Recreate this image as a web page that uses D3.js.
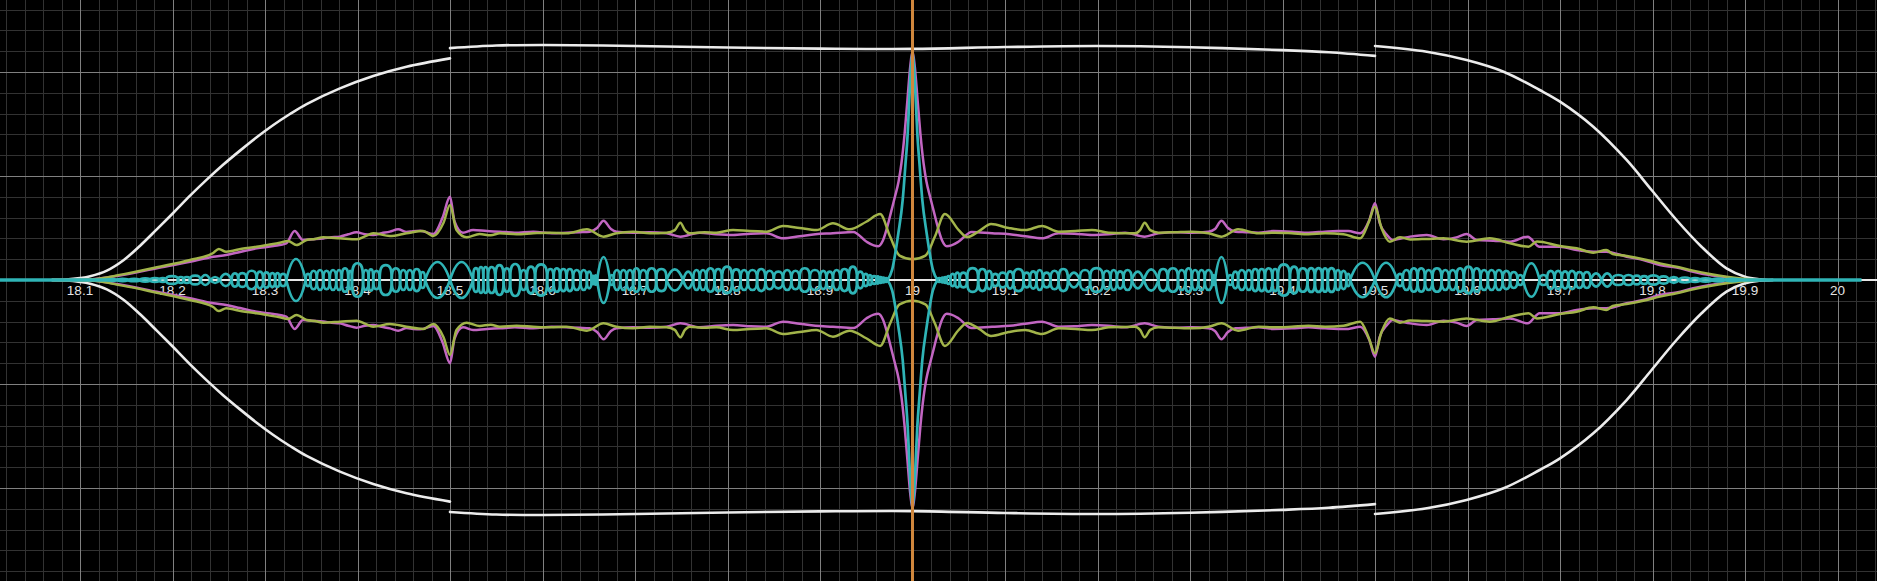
<!DOCTYPE html>
<html><head><meta charset="utf-8">
<script src="https://cdn.jsdelivr.net/npm/d3@7"></script>
<style>html,body{margin:0;padding:0;background:#000;overflow:hidden}</style>
</head><body><svg id="c" width="1877" height="581"></svg>
<script>
// ---------------- data ----------------
const xTickLabels = ["18.1","18.2","18.3","18.4","18.5","18.6","18.7","18.8","18.9","19","19.1","19.2","19.3","19.4","19.5","19.6","19.7","19.8","19.9","20"];
const markerX = 19;

const whiteLeft = [[18.07,0],[18.085,0.004],[18.1,0.018],[18.111,0.036],[18.129,0.09],[18.147,0.19],[18.165,0.33],[18.183,0.487],[18.201,0.647],[18.219,0.811],[18.237,0.965],[18.255,1.11],[18.273,1.244],[18.291,1.372],[18.309,1.49],[18.327,1.596],[18.345,1.692],[18.381,1.843],[18.417,1.962],[18.453,2.051],[18.5,2.131]];
const whiteMid = [[18.5,2.23],[18.55,2.255],[18.6,2.26],[18.7,2.25],[18.8,2.235],[18.9,2.225],[19.0,2.222],[19.1,2.24],[19.2,2.25],[19.3,2.238],[19.4,2.21],[19.45,2.19],[19.5,2.155]];
const whiteRight = [[19.5,2.25],[19.556,2.195],[19.599,2.115],[19.639,2.003],[19.678,1.827],[19.7,1.715],[19.736,1.474],[19.772,1.154],[19.799,0.865],[19.826,0.577],[19.853,0.32],[19.88,0.112],[19.9,0.032],[19.915,0.008],[19.93,0]];

const magentaTop = [[18.07,0],[18.111,0.006],[18.146,0.048],[18.183,0.113],[18.219,0.176],[18.244,0.224],[18.258,0.24],[18.273,0.27],[18.291,0.305],[18.309,0.327],[18.323,0.353],[18.332,0.471],[18.341,0.385],[18.352,0.392],[18.363,0.4],[18.372,0.41],[18.381,0.417],[18.39,0.44],[18.399,0.458],[18.408,0.44],[18.417,0.433],[18.426,0.45],[18.435,0.465],[18.444,0.487],[18.453,0.462],[18.46,0.47],[18.468,0.474],[18.482,0.442],[18.492,0.6],[18.5,0.8],[18.505,0.56],[18.514,0.455],[18.525,0.481],[18.54,0.47],[18.554,0.465],[18.57,0.455],[18.59,0.465],[18.61,0.45],[18.626,0.455],[18.64,0.46],[18.651,0.465],[18.659,0.5],[18.666,0.57],[18.674,0.49],[18.68,0.465],[18.698,0.455],[18.715,0.46],[18.734,0.449],[18.749,0.417],[18.77,0.455],[18.788,0.44],[18.806,0.433],[18.825,0.445],[18.842,0.449],[18.86,0.401],[18.878,0.42],[18.895,0.44],[18.914,0.449],[18.936,0.462],[18.95,0.37],[18.958,0.333],[18.963,0.325],[18.968,0.38],[18.973,0.52],[18.977,0.66],[18.981,0.8],[18.985,0.95],[18.988,1.12],[18.9915,1.41],[18.9945,1.73],[18.9975,2.05],[19.0,2.2],[19.0025,2.05],[19.0055,1.73],[19.0085,1.41],[19.012,1.12],[19.015,0.95],[19.019,0.8],[19.023,0.66],[19.027,0.52],[19.032,0.38],[19.037,0.325],[19.042,0.333],[19.05,0.37],[19.064,0.462],[19.086,0.449],[19.105,0.44],[19.122,0.42],[19.14,0.401],[19.158,0.449],[19.175,0.445],[19.194,0.433],[19.212,0.44],[19.23,0.455],[19.251,0.417],[19.266,0.449],[19.285,0.46],[19.302,0.455],[19.32,0.465],[19.327,0.49],[19.334,0.57],[19.341,0.5],[19.349,0.465],[19.36,0.46],[19.374,0.455],[19.39,0.47],[19.41,0.465],[19.428,0.455],[19.446,0.465],[19.46,0.47],[19.471,0.47],[19.484,0.449],[19.494,0.58],[19.5,0.737],[19.505,0.55],[19.513,0.433],[19.519,0.385],[19.528,0.4],[19.538,0.417],[19.556,0.433],[19.574,0.392],[19.588,0.41],[19.599,0.442],[19.61,0.385],[19.628,0.378],[19.646,0.369],[19.665,0.417],[19.678,0.32],[19.7,0.32],[19.718,0.288],[19.736,0.272],[19.75,0.272],[19.772,0.224],[19.79,0.192],[19.808,0.144],[19.826,0.12],[19.844,0.08],[19.862,0.048],[19.88,0.026],[19.898,0.006],[19.916,0]];

const oliveTop = [[18.07,0],[18.111,0.006],[18.146,0.054],[18.183,0.122],[18.219,0.192],[18.244,0.26],[18.25,0.298],[18.258,0.272],[18.275,0.3],[18.291,0.32],[18.304,0.34],[18.316,0.359],[18.325,0.375],[18.334,0.336],[18.345,0.385],[18.354,0.395],[18.363,0.41],[18.381,0.401],[18.399,0.391],[18.408,0.42],[18.417,0.449],[18.435,0.423],[18.453,0.449],[18.471,0.471],[18.482,0.423],[18.493,0.55],[18.5,0.72],[18.507,0.48],[18.518,0.41],[18.532,0.442],[18.544,0.43],[18.554,0.449],[18.572,0.44],[18.59,0.449],[18.608,0.455],[18.626,0.449],[18.648,0.487],[18.666,0.417],[18.68,0.45],[18.698,0.465],[18.716,0.45],[18.734,0.455],[18.743,0.48],[18.749,0.551],[18.754,0.48],[18.759,0.449],[18.775,0.46],[18.788,0.455],[18.806,0.481],[18.824,0.47],[18.842,0.465],[18.86,0.52],[18.878,0.5],[18.896,0.48],[18.914,0.545],[18.932,0.487],[18.95,0.56],[18.965,0.634],[18.976,0.413],[18.986,0.235],[19.0,0.2],[19.014,0.235],[19.024,0.413],[19.035,0.634],[19.05,0.48],[19.059,0.413],[19.072,0.47],[19.085,0.538],[19.104,0.5],[19.122,0.48],[19.14,0.52],[19.158,0.465],[19.176,0.47],[19.194,0.481],[19.212,0.455],[19.241,0.449],[19.246,0.48],[19.251,0.551],[19.257,0.48],[19.266,0.455],[19.284,0.46],[19.302,0.465],[19.32,0.45],[19.334,0.417],[19.352,0.487],[19.374,0.449],[19.392,0.455],[19.41,0.449],[19.428,0.44],[19.446,0.449],[19.466,0.44],[19.484,0.401],[19.493,0.55],[19.5,0.705],[19.507,0.5],[19.516,0.369],[19.527,0.41],[19.538,0.39],[19.556,0.395],[19.574,0.401],[19.599,0.369],[19.624,0.401],[19.646,0.353],[19.666,0.32],[19.675,0.369],[19.7,0.327],[19.718,0.305],[19.736,0.263],[19.75,0.288],[19.757,0.25],[19.772,0.231],[19.79,0.2],[19.808,0.16],[19.826,0.128],[19.844,0.09],[19.862,0.058],[19.88,0.032],[19.898,0.013],[19.916,0]];

// cyan loops: [start, end, half-height, lens(1)/oval(0)]
const cyanLoops = [
[18.130,18.140,0.008,0],[18.140,18.152,0.01,0],[18.152,18.165,0.012,0],[18.165,18.176,0.015,0],[18.176,18.186,0.019,0],[18.186,18.193,0.019,0],[18.193,18.206,0.038,0],[18.206,18.212,0.029,0],[18.212,18.219,0.029,0],[18.219,18.230,0.043,0],[18.230,18.241,0.048,1],[18.241,18.251,0.029,1],[18.251,18.264,0.058,1],[18.264,18.271,0.064,0],[18.271,18.280,0.067,0],[18.280,18.291,0.089,0],[18.291,18.298,0.08,0],[18.298,18.305,0.074,0],[18.305,18.311,0.067,0],[18.311,18.316,0.067,0],[18.316,18.323,0.058,0],[18.323,18.344,0.202,1],[18.344,18.349,0.058,0],[18.349,18.356,0.089,0],[18.356,18.363,0.096,0],[18.363,18.370,0.089,0],[18.370,18.377,0.096,0],[18.377,18.383,0.096,0],[18.383,18.390,0.113,0],[18.390,18.394,0.089,0],[18.394,18.406,0.161,0],[18.406,18.412,0.096,0],[18.412,18.417,0.103,0],[18.417,18.424,0.089,0],[18.424,18.437,0.144,0],[18.437,18.446,0.113,0],[18.446,18.453,0.096,0],[18.453,18.460,0.096,0],[18.460,18.468,0.106,0],[18.468,18.473,0.077,0],[18.473,18.500,0.173,1],[18.500,18.525,0.173,1],[18.525,18.531,0.115,0],[18.531,18.536,0.125,0],[18.536,18.541,0.125,0],[18.541,18.549,0.125,0],[18.549,18.558,0.144,0],[18.558,18.565,0.113,0],[18.565,18.576,0.154,0],[18.576,18.583,0.096,0],[18.583,18.592,0.128,0],[18.592,18.605,0.151,0],[18.605,18.612,0.106,0],[18.612,18.619,0.113,0],[18.619,18.626,0.106,0],[18.626,18.633,0.106,0],[18.633,18.641,0.096,0],[18.641,18.648,0.096,0],[18.648,18.653,0.08,0],[18.653,18.656,0.04,0],[18.656,18.659,0.045,0],[18.659,18.673,0.221,1],[18.673,18.677,0.048,0],[18.677,18.684,0.096,0],[18.684,18.691,0.096,0],[18.691,18.698,0.096,0],[18.698,18.705,0.113,0],[18.705,18.713,0.096,0],[18.713,18.723,0.113,0],[18.723,18.734,0.106,0],[18.734,18.752,0.103,1],[18.752,18.763,0.08,1],[18.763,18.770,0.096,0],[18.770,18.777,0.096,0],[18.777,18.786,0.113,0],[18.786,18.794,0.106,0],[18.794,18.805,0.128,0],[18.805,18.814,0.103,0],[18.814,18.822,0.096,0],[18.822,18.832,0.096,0],[18.832,18.841,0.106,0],[18.841,18.850,0.089,0],[18.850,18.860,0.08,0],[18.860,18.869,0.096,0],[18.869,18.878,0.089,0],[18.878,18.889,0.113,0],[18.889,18.900,0.096,0],[18.900,18.907,0.087,0],[18.907,18.914,0.08,0],[18.914,18.922,0.096,0],[18.922,18.931,0.106,0],[18.931,18.940,0.128,0],[18.940,18.947,0.08,0],[18.947,18.952,0.058,0],[18.952,18.956,0.048,0],[18.956,18.961,0.038,0],[18.961,18.964,0.034,0],[18.964,18.967,0.029,0],[18.967,18.970,0.024,0],[18.970,18.973,0.019,0],
[19.027,19.031,0.019,0],[19.031,19.034,0.024,0],[19.034,19.037,0.029,0],[19.037,19.041,0.038,0],[19.041,19.046,0.058,0],[19.046,19.051,0.071,0],[19.051,19.059,0.071,0],[19.059,19.071,0.115,0],[19.071,19.080,0.106,0],[19.080,19.086,0.087,0],[19.086,19.093,0.058,0],[19.093,19.102,0.071,0],[19.102,19.109,0.082,0],[19.109,19.120,0.106,0],[19.120,19.127,0.071,0],[19.127,19.134,0.082,0],[19.134,19.141,0.096,0],[19.141,19.149,0.071,0],[19.149,19.158,0.089,0],[19.158,19.168,0.106,0],[19.168,19.181,0.071,1],[19.181,19.192,0.096,0],[19.192,19.206,0.115,0],[19.206,19.214,0.089,0],[19.214,19.221,0.096,0],[19.221,19.228,0.082,0],[19.228,19.237,0.096,0],[19.237,19.250,0.08,1],[19.250,19.266,0.103,1],[19.266,19.276,0.106,0],[19.276,19.287,0.113,0],[19.287,19.295,0.096,0],[19.295,19.302,0.113,0],[19.302,19.309,0.096,0],[19.309,19.316,0.096,0],[19.316,19.324,0.096,0],[19.324,19.327,0.048,0],[19.327,19.341,0.221,1],[19.341,19.346,0.048,0],[19.346,19.352,0.08,0],[19.352,19.360,0.096,0],[19.360,19.367,0.096,0],[19.367,19.374,0.106,0],[19.374,19.381,0.106,0],[19.381,19.389,0.113,0],[19.389,19.395,0.106,0],[19.395,19.408,0.151,0],[19.408,19.417,0.128,0],[19.417,19.427,0.113,0],[19.427,19.435,0.115,0],[19.435,19.443,0.115,0],[19.443,19.449,0.113,0],[19.449,19.457,0.115,0],[19.457,19.463,0.096,0],[19.463,19.469,0.087,0],[19.469,19.473,0.058,0],[19.473,19.500,0.166,1],[19.500,19.524,0.166,1],[19.524,19.530,0.058,0],[19.530,19.538,0.096,0],[19.538,19.546,0.113,0],[19.546,19.554,0.113,0],[19.554,19.562,0.096,0],[19.562,19.572,0.113,0],[19.572,19.580,0.096,0],[19.580,19.588,0.096,0],[19.588,19.596,0.113,0],[19.596,19.606,0.128,0],[19.606,19.614,0.113,0],[19.614,19.622,0.096,0],[19.622,19.630,0.096,0],[19.630,19.638,0.096,0],[19.638,19.646,0.087,0],[19.646,19.654,0.077,0],[19.654,19.660,0.048,0],[19.660,19.678,0.161,1],[19.678,19.686,0.048,0],[19.686,19.694,0.087,0],[19.694,19.702,0.087,0],[19.702,19.709,0.082,0],[19.709,19.717,0.087,0],[19.717,19.725,0.077,0],[19.725,19.733,0.077,0],[19.733,19.745,0.063,1],[19.745,19.757,0.064,1],[19.757,19.769,0.048,0],[19.769,19.779,0.048,0],[19.779,19.787,0.043,0],[19.787,19.795,0.038,0],[19.795,19.807,0.045,0],[19.807,19.817,0.034,0],[19.817,19.829,0.026,1],[19.829,19.841,0.024,0],[19.841,19.851,0.019,0],[19.851,19.864,0.016,0],[19.864,19.878,0.0125,0],[19.878,19.895,0.01,0]
];
const cyanSpikeLeft = [[18.973,0],[18.978,0.1],[18.9847,0.45],[18.9894,0.77],[18.9922,1.09],[18.9948,1.41],[18.9965,1.73],[18.9984,2.05],[19.0,2.19]];
const cyanSpikeRight = [[19.0,2.19],[19.0016,2.05],[19.0035,1.73],[19.0052,1.41],[19.0078,1.09],[19.0106,0.77],[19.0153,0.45],[19.022,0.1],[19.027,0]];
const cyanFlat = [[18.0135,18.131],[19.894,20.026]];

// ---------------- drawing ----------------
const W = 1877, H = 581;
const x = d3.scaleLinear().domain([18.01351, 20.04270]).range([0, W]);
const y = d3.scaleLinear().domain([-2.8942, 2.6923]).range([H, 0]);
const svg = d3.select('#c');
svg.append('rect').attr('width', W).attr('height', H).attr('fill', '#000');

// grid via axes
const minorXv = d3.range(901, 1003).map(k => k * 0.02);
const majorXv = d3.range(181, 201).map(k => k / 10);
const minorYv = d3.range(-14, 14).map(k => k * 0.2);
const majorYv = d3.range(-2, 3);
function gridX(vals, col) {
  const g = svg.append('g').attr('transform', `translate(0,${H})`)
    .call(d3.axisBottom(x).tickValues(vals).tickSize(-H).tickFormat(''));
  g.select('.domain').remove();
  g.selectAll('line').attr('stroke', col).attr('stroke-width', 1).attr('shape-rendering', 'crispEdges');
}
function gridY(vals, col) {
  const g = svg.append('g')
    .call(d3.axisLeft(y).tickValues(vals).tickSize(-W).tickFormat(''));
  g.select('.domain').remove();
  g.selectAll('line').attr('stroke', col).attr('stroke-width', 1).attr('shape-rendering', 'crispEdges');
}
gridX(minorXv, '#323232');
gridY(minorYv, '#323232');
gridX(majorXv, '#808080');
gridY(majorYv, '#808080');

// x axis line
svg.append('line').attr('x1', 0).attr('x2', W).attr('y1', y(0)).attr('y2', y(0))
  .attr('stroke', '#e6e6e6').attr('stroke-width', 2);

// tick labels
svg.append('g').selectAll('text').data(xTickLabels).join('text')
  .attr('x', d => x(+d)).attr('y', y(0) + 15)
  .attr('text-anchor', 'middle')
  .attr('font-family', 'Liberation Sans, Arial, sans-serif')
  .attr('font-size', 13.5)
  .attr('fill', '#e4e4e4')
  .attr('stroke', '#000').attr('stroke-width', 3).attr('paint-order', 'stroke')
  .text(d => d);

const lineP = d3.line().x(d => x(d[0])).y(d => y(d[1])).curve(d3.curveMonotoneX);
const lineN = d3.line().x(d => x(d[0])).y(d => y(-d[1])).curve(d3.curveMonotoneX);
const smoothP = d3.line().x(d => x(d[0])).y(d => y(d[1])).curve(d3.curveCatmullRom.alpha(0.5));
const smoothN = d3.line().x(d => x(d[0])).y(d => y(-d[1])).curve(d3.curveCatmullRom.alpha(0.5));
function drawPair(data, col, w, pair) {
  pair.forEach(l => svg.append('path').attr('d', l(data)).attr('fill', 'none')
    .attr('stroke', col).attr('stroke-width', w).attr('stroke-linejoin', 'round').attr('stroke-linecap', 'round'));
}
const WHITE = '#ececec', MAG = '#c266c2', OLV = '#a2b44a', CYAN = '#2fb4b6', ORANGE = '#d0873d';
[whiteLeft, whiteMid, whiteRight].forEach(d => drawPair(d, WHITE, 2.6, [smoothP, smoothN]));
drawPair(magentaTop, MAG, 2.5, [lineP, lineN]);
drawPair(oliveTop, OLV, 2.5, [lineP, lineN]);

// cyan
const cg = svg.append('g').attr('fill', 'none').attr('stroke', CYAN).attr('stroke-width', 2.7);
cg.selectAll('line.flat').data(cyanFlat).join('line')
  .attr('x1', d => x(d[0])).attr('x2', d => x(d[1])).attr('y1', y(0)).attr('y2', y(0))
  .attr('stroke-width', 3.6);
const K = 0.74; // rounded-box oval
cg.selectAll('path.oval').data(cyanLoops.filter(d => !d[3])).join('path')
  .attr('d', d => {
    const cx = x((d[0] + d[1]) / 2), rx = (x(d[1]) - x(d[0])) / 2, cy = y(0), ry = y(0) - y(d[2]);
    return `M${cx + rx},${cy}C${cx + rx},${cy - K * ry} ${cx + K * rx},${cy - ry} ${cx},${cy - ry}` +
      `C${cx - K * rx},${cy - ry} ${cx - rx},${cy - K * ry} ${cx - rx},${cy}` +
      `C${cx - rx},${cy + K * ry} ${cx - K * rx},${cy + ry} ${cx},${cy + ry}` +
      `C${cx + K * rx},${cy + ry} ${cx + rx},${cy + K * ry} ${cx + rx},${cy}Z`;
  });
cg.selectAll('path.lens').data(cyanLoops.filter(d => d[3])).join('path')
  .attr('d', d => {
    const x0 = x(d[0]), x1 = x(d[1]), xm = x((d[0] + d[1]) / 2);
    return `M${x0},${y(0)}Q${xm},${y(2 * d[2])} ${x1},${y(0)}Q${xm},${y(-2 * d[2])} ${x0},${y(0)}Z`;
  });
[cyanSpikeLeft, cyanSpikeRight].forEach(d => {
  cg.append('path').attr('d', lineP(d));
  cg.append('path').attr('d', lineN(d));
});

// orange marker line
svg.append('line').attr('x1', x(markerX)).attr('x2', x(markerX)).attr('y1', 0).attr('y2', H)
  .attr('stroke', ORANGE).attr('stroke-width', 3);
</script></body></html>
